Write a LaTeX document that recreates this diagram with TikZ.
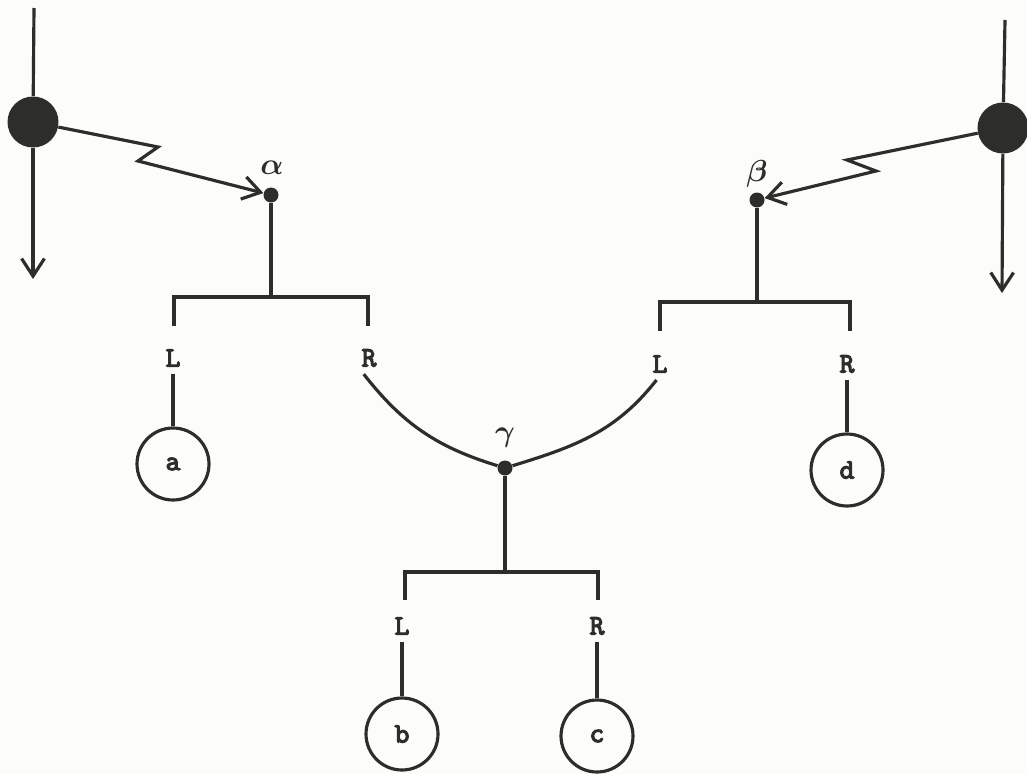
\documentclass[tikz,border=0pt]{standalone}
\usepackage{amsmath}
\usepackage{fontspec}
\newfontfamily\tw{lmmono10-regular.otf}[FakeBold=4]
\usetikzlibrary{arrows.meta}
\definecolor{ink}{RGB}{45,45,42}
\definecolor{paper}{RGB}{252,252,248}
\begin{document}
\begin{tikzpicture}[x=0.02cm,y=-0.02cm,
  line/.style={draw=ink,line width=1.8pt},
  arr/.style={line,-{Straight Barb[length=10pt,width=13pt,line width=1.8pt]}},
  bigdot/.style={circle,fill=ink,minimum size=1.02cm,inner sep=0pt},
  smalldot/.style={circle,fill=ink,minimum size=0.3cm,inner sep=0pt},
  leaf/.style={circle,draw=ink,line width=1.8pt,minimum size=1.44cm,inner sep=0pt,font=\fontsize{16}{18}\selectfont\tw,text=ink},
  lbl/.style={inner sep=4pt,font=\fontsize{16}{18}\selectfont\tw,text=ink},
  greek/.style={inner sep=1pt,font=\fontsize{16}{18}\selectfont,text=ink}]
\useasboundingbox[fill=paper] (0,0) rectangle (1027,774);

% big dots with vertical lines
\node[bigdot] (bigL) at (33,122) {};
\node[bigdot] (bigR) at (1003,128) {};
\coordinate (topL) at (34,8);
\coordinate (botL) at (33,279);
\coordinate (topR) at (1005,20);
\coordinate (botR) at (1002,293);
\draw[line] (topL) -- (bigL);
\draw[arr] (bigL) -- (botL);
\draw[line] (topR) -- (bigR);
\draw[arr] (bigR) -- (botR);

% branching dots
\node[smalldot] (alpha) at (271,195) {};
\node[greek] (alab) at (272,168) {$\boldsymbol{\alpha}$};
\node[smalldot] (beta) at (757,200) {};
\node[greek] (blab) at (757,174) {$\boldsymbol{\beta}$};
\node[smalldot] (gamma) at (505,468) {};
\node[greek] (glab) at (505,438) {$\boldsymbol{\gamma}$};

% zigzag arrows
\coordinate (zL1) at (158,147);
\coordinate (zL2) at (138,161);
\draw[arr] (bigL) -- (zL1) -- (zL2) -- (alpha);
\coordinate (zR1) at (847,160);
\coordinate (zR2) at (876,171);
\draw[arr] (bigR) -- (zR1) -- (zR2) -- (beta);

% alpha bracket
\coordinate (aM) at (271,297);
\coordinate (aL) at (174,297);
\coordinate (aR) at (368,297);
\coordinate (aL2) at (174,326);
\coordinate (aR2) at (368,326);
\draw[line] (alpha) -- (aM);
\draw[line] (aL2) -- (aL) -- (aR) -- (aR2);
\node[lbl] (LA) at (173,358) {L};
\node[lbl] (RA) at (369,358) {R};
\node[leaf] (a) at (173,464) {a};
\draw[line] (LA.south) -- (a);

% beta bracket
\coordinate (bM) at (757,302);
\coordinate (bL) at (660,302);
\coordinate (bR) at (850,302);
\coordinate (bL2) at (660,331);
\coordinate (bR2) at (850,331);
\draw[line] (beta) -- (bM);
\draw[line] (bL2) -- (bL) -- (bR) -- (bR2);
\node[lbl] (LB) at (660,364) {L};
\node[lbl] (RB) at (847,364) {R};
\node[leaf] (d) at (847,470) {d};
\draw[line] (RB.south) -- (d);

% curves into gamma
\draw[line] ([xshift=-3pt]RA.south) to[out=-52,in=163] (gamma);
\draw[line] (gamma) to[out=17,in=-128] ([xshift=-2pt]LB.south);

% gamma bracket
\coordinate (gM) at (505,572);
\coordinate (gL) at (405,572);
\coordinate (gR) at (598,572);
\coordinate (gL2) at (405,600);
\coordinate (gR2) at (598,600);
\draw[line] (gamma) -- (gM);
\draw[line] (gL2) -- (gL) -- (gR) -- (gR2);
\node[lbl] (LG) at (402,626) {L};
\node[lbl] (RG) at (597,626) {R};
\node[leaf] (b) at (402,734) {b};
\node[leaf] (c) at (597,736) {c};
\draw[line] (LG.south) -- (b);
\draw[line] (RG.south) -- (c);
\end{tikzpicture}
\end{document}
